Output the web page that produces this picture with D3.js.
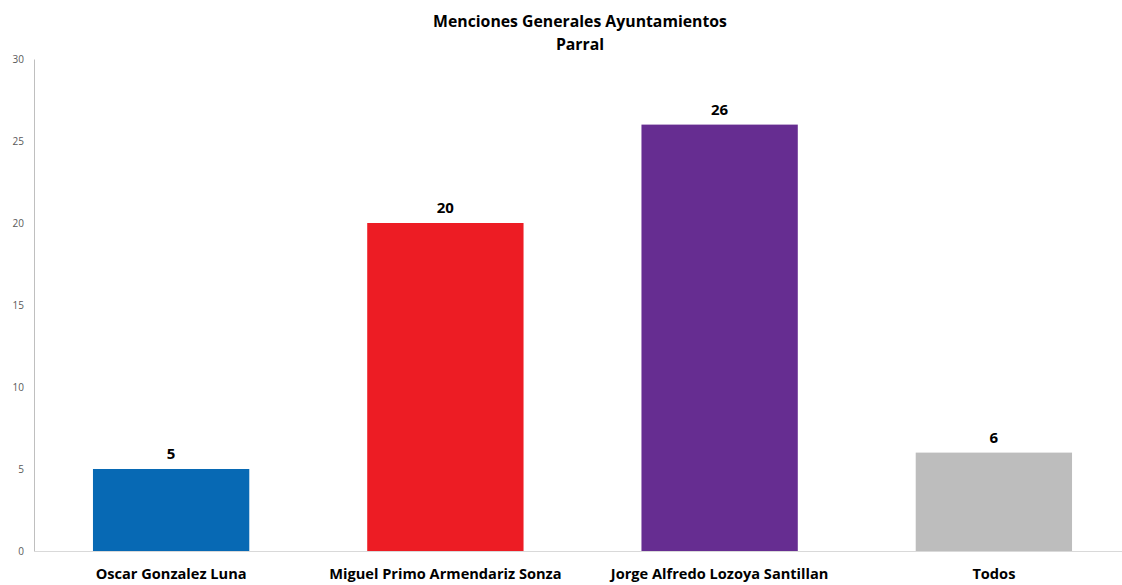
<!DOCTYPE html>
<html><head><meta charset="utf-8">
<script src="https://cdn.jsdelivr.net/npm/d3@7"></script>
<style>body{margin:0;background:#fff}</style>
</head><body>
<svg id="c" width="1122" height="585"></svg>
<script>
const categories = ["Oscar Gonzalez Luna","Miguel Primo Armendariz Sonza","Jorge Alfredo Lozoya Santillan","Todos"];
const values = [5,20,26,6];
const colors = ["#0769b4","#ed1c24","#662d91","#bdbdbd"];
const yTicks = [0,5,10,15,20,25,30];
const titleLines = ["Menciones Generales Ayuntamientos","Parral"];

const svg = d3.select("#c");
const font = "'Open Sans', 'Liberation Sans', sans-serif";
const x = d3.scaleBand().domain(categories).range([34,1131]).paddingInner(0.43).paddingOuter(0.215);
const y = d3.scaleLinear().domain([0,30]).range([551,59]);

// y axis
const ya = svg.append("g").attr("transform","translate(34,0)")
  .call(d3.axisLeft(y).tickValues(yTicks).tickSize(0).tickPadding(10));
ya.select(".domain").attr("stroke","#bfbfbf");
ya.selectAll("text").attr("fill","#595959").style("font-family",font).style("font-size","10px");

// bars
svg.selectAll("rect.bar").data(values).join("rect")
  .attr("x",(d,i)=>x(categories[i])).attr("width",x.bandwidth())
  .attr("y",d=>y(d)).attr("height",d=>y(0)-y(d))
  .attr("fill",(d,i)=>colors[i]);

// x axis
const xa = svg.append("g").attr("transform","translate(0,551)")
  .call(d3.axisBottom(x).tickSize(0).tickPadding(18));
xa.select(".domain").attr("stroke","#d9d9d9").attr("d","M34,0.5H1122");
xa.selectAll("text").attr("fill","#000").style("font-family",font).style("font-size","14.6px").style("font-weight","bold");

// value labels
svg.selectAll("text.val").data(values).join("text")
  .attr("x",(d,i)=>x(categories[i])+x.bandwidth()/2).attr("y",d=>y(d)-10)
  .attr("text-anchor","middle").style("font-family",font).style("font-size","15px").style("font-weight","bold")
  .attr("fill","#000").text(d=>d);

// title
svg.selectAll("text.title").data(titleLines).join("text")
  .attr("x",580).attr("y",(d,i)=>27+i*23).attr("text-anchor","middle")
  .style("font-family",font).style("font-size","15.8px").style("font-weight","bold").attr("fill","#000")
  .text(d=>d);
</script>
</body></html>
